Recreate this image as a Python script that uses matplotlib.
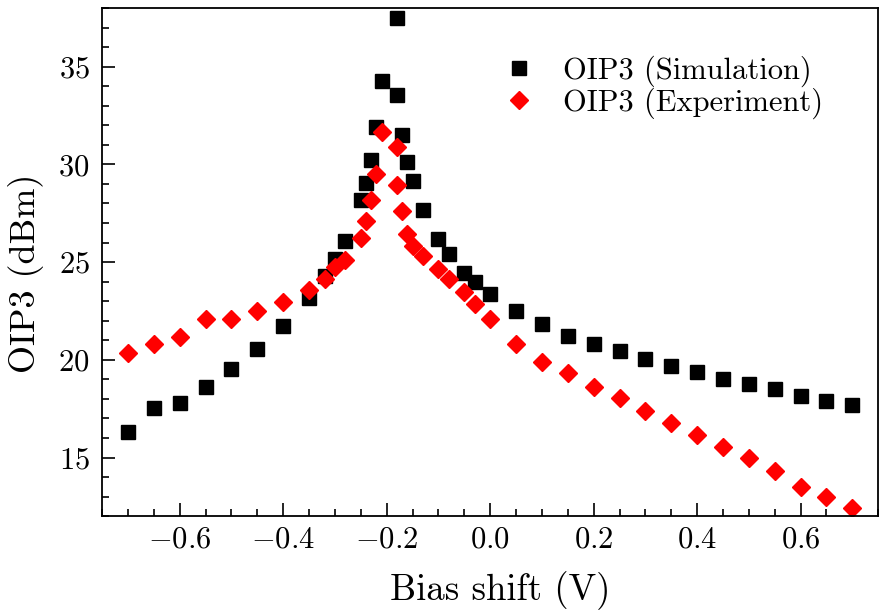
import numpy as np
import matplotlib
matplotlib.use("Agg")
import matplotlib.pyplot as plt
from matplotlib.ticker import MultipleLocator

# simulated OIP3 (black squares)
bias_sim = [-0.70, -0.65, -0.60, -0.55, -0.50, -0.45, -0.40, -0.35, -0.32, -0.30,
            -0.28, -0.25, -0.24, -0.23, -0.22, -0.21, -0.18, -0.18, -0.17, -0.16,
            -0.15, -0.13, -0.10, -0.08, -0.05, -0.03, 0.00, 0.05, 0.10, 0.15,
            0.20, 0.25, 0.30, 0.35, 0.40, 0.45, 0.50, 0.55, 0.60, 0.65, 0.70]
oip3_sim = [16.32, 17.52, 17.81, 18.59, 19.51, 20.53, 21.72, 23.16, 24.30, 25.16,
            26.10, 28.15, 29.06, 30.24, 31.90, 34.27, 37.47, 33.54, 31.50, 30.13,
            29.17, 27.67, 26.20, 25.43, 24.46, 23.99, 23.37, 22.52, 21.82, 21.24,
            20.82, 20.46, 20.02, 19.69, 19.37, 19.00, 18.76, 18.52, 18.16, 17.89, 17.67]

# measured OIP3 (red diamonds)
bias_exp = [-0.70, -0.65, -0.60, -0.55, -0.50, -0.45, -0.40, -0.35, -0.32, -0.30,
            -0.28, -0.25, -0.24, -0.23, -0.22, -0.21, -0.18, -0.18, -0.17, -0.16,
            -0.15, -0.13, -0.10, -0.08, -0.05, -0.03, 0.00, 0.05, 0.10, 0.15,
            0.20, 0.25, 0.30, 0.35, 0.40, 0.45, 0.50, 0.55, 0.60, 0.65, 0.70]
oip3_exp = [20.36, 20.80, 21.16, 22.08, 22.11, 22.48, 22.94, 23.58, 24.14, 24.74,
            25.09, 26.22, 27.10, 28.15, 29.51, 31.63, 30.90, 28.93, 27.60, 26.42,
            25.80, 25.31, 24.66, 24.15, 23.47, 22.85, 22.08, 20.79, 19.87, 19.31,
            18.62, 18.06, 17.40, 16.79, 16.16, 15.56, 14.97, 14.32, 13.47, 12.98, 12.42]

plt.rcParams.update({
    "font.family": "serif",
    "font.serif": ["cmr10"],
    "mathtext.fontset": "cm",
    "axes.formatter.use_mathtext": True,
    "font.size": 22,
})

fig = plt.figure(figsize=(8.88, 6.13), dpi=100)
ax = fig.add_axes([0.115, 0.158, 0.874, 0.829])

ax.plot(bias_sim, oip3_sim, linestyle="none", marker="s", ms=9.5,
        color="black", label="OIP3 (Simulation)")
ax.plot(bias_exp, oip3_exp, linestyle="none", marker="D", ms=9,
        color="red", label="OIP3 (Experiment)")

ax.set_xlim(-0.75, 0.75)
ax.set_ylim(12, 38)
ax.xaxis.set_major_locator(MultipleLocator(0.2))
ax.xaxis.set_minor_locator(MultipleLocator(0.05))
ax.yaxis.set_major_locator(MultipleLocator(5))
ax.yaxis.set_minor_locator(MultipleLocator(1))
ax.tick_params(which="both", direction="in", top=False, right=False, width=1.2)
ax.tick_params(which="major", length=9.5, labelsize=22)
ax.tick_params(axis="x", which="major", pad=7)
ax.tick_params(axis="y", which="major", pad=9)
ax.tick_params(which="minor", length=5)
for s in ax.spines.values():
    s.set_linewidth(1.3)

ax.set_xlabel("Bias shift (V)", fontsize=26.5)
ax.set_ylabel("OIP3 (dBm)", fontsize=26)
ax.xaxis.set_label_coords(0.513, -0.108)
ax.yaxis.set_label_coords(-0.0747, 0.478)

ax.legend(loc="upper left", bbox_to_anchor=(0.482, 0.93), borderaxespad=0,
          frameon=False, fontsize=22, handletextpad=0.45, labelspacing=0.0)

fig.savefig("out.png", dpi=100)
